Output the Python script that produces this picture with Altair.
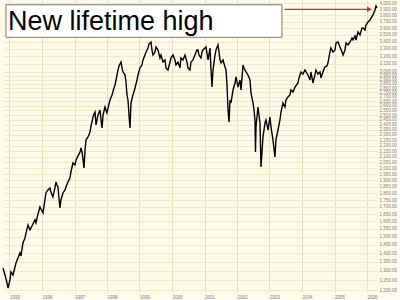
import altair as alt
import pandas as pd

# decimal-year dates and index levels
years = [1994.800, 1994.862, 1994.923, 1994.954, 1995.015, 1995.046, 1995.108, 1995.200, 1995.262, 1995.323,
         1995.354, 1995.415, 1995.477, 1995.508, 1995.569, 1995.631, 1995.662, 1995.723, 1995.785, 1995.815,
         1995.877, 1995.938, 1996.000, 1996.031, 1996.092, 1996.123, 1996.185, 1996.246, 1996.277, 1996.338,
         1996.400, 1996.431, 1996.462, 1996.492, 1996.523, 1996.554, 1996.585, 1996.646, 1996.708, 1996.738,
         1996.800, 1996.862, 1996.892, 1996.954, 1997.015, 1997.046, 1997.108, 1997.169, 1997.200, 1997.231,
         1997.262, 1997.292, 1997.323, 1997.354, 1997.415, 1997.477, 1997.508, 1997.569, 1997.600, 1997.631,
         1997.662, 1997.723, 1997.785, 1997.815, 1997.846, 1997.877, 1997.938, 1997.969, 1998.000, 1998.062,
         1998.092, 1998.154, 1998.215, 1998.246, 1998.277, 1998.338, 1998.369, 1998.431, 1998.462, 1998.492,
         1998.554, 1998.585, 1998.615, 1998.646, 1998.677, 1998.708, 1998.738, 1998.800, 1998.862, 1998.923,
         1998.954, 1999.015, 1999.077, 1999.108, 1999.169, 1999.231, 1999.262, 1999.292, 1999.354, 1999.385,
         1999.415, 1999.477, 1999.508, 1999.569, 1999.631, 1999.662, 1999.723, 1999.785, 1999.815, 1999.877,
         1999.938, 1999.969, 2000.031, 2000.092, 2000.123, 2000.185, 2000.246, 2000.277, 2000.338, 2000.400,
         2000.462, 2000.492, 2000.554, 2000.585, 2000.646, 2000.708, 2000.769, 2000.800, 2000.831, 2000.892,
         2000.923, 2000.954, 2001.046, 2001.108, 2001.169, 2001.200, 2001.231, 2001.262, 2001.323, 2001.354,
         2001.415, 2001.446, 2001.477, 2001.508, 2001.569, 2001.631, 2001.662, 2001.692, 2001.723, 2001.754,
         2001.785, 2001.815, 2001.877, 2001.938, 2001.969, 2002.031, 2002.092, 2002.123, 2002.185, 2002.215,
         2002.277, 2002.338, 2002.400, 2002.431, 2002.492, 2002.523, 2002.554, 2002.569, 2002.585, 2002.646,
         2002.708, 2002.738, 2002.800, 2002.862, 2002.892, 2002.954, 2003.015, 2003.046, 2003.108, 2003.169,
         2003.200, 2003.262, 2003.323, 2003.354, 2003.415, 2003.477, 2003.508, 2003.569, 2003.631, 2003.662,
         2003.723, 2003.785, 2003.877, 2003.908, 2003.969, 2004.031, 2004.092, 2004.185, 2004.246, 2004.277,
         2004.338, 2004.400, 2004.431, 2004.492, 2004.554, 2004.585, 2004.646, 2004.708, 2004.769, 2004.800,
         2004.862, 2004.892, 2004.954, 2005.015, 2005.046, 2005.108, 2005.169, 2005.231, 2005.262, 2005.323,
         2005.354, 2005.415, 2005.477, 2005.538, 2005.569, 2005.631, 2005.662, 2005.723, 2005.785, 2005.846,
         2005.877, 2005.938, 2005.969, 2006.031, 2006.092, 2006.123, 2006.185, 2006.246, 2006.277, 2006.308]
values = [1316, 1278, 1236, 1210, 1252, 1294, 1278, 1344, 1373, 1402,
          1384, 1462, 1493, 1524, 1576, 1544, 1557, 1583, 1610, 1590,
          1651, 1700, 1672, 1658, 1751, 1803, 1826, 1841, 1810, 1773,
          1841, 1888, 1864, 1849, 1765, 1693, 1751, 1803, 1826, 1849,
          1888, 1920, 1969, 2045, 2028, 2071, 2106, 2141, 2177, 2141,
          2071, 2002, 2159, 2252, 2280, 2329, 2388, 2480, 2511, 2532,
          2398, 2501, 2554, 2449, 2368, 2501, 2586, 2554, 2522, 2619,
          2663, 2720, 2801, 2836, 2896, 3020, 3071, 3123, 3046, 2995,
          2958, 2872, 2720, 2663, 2501, 2368, 2630, 2720, 2801, 2896,
          2958, 3046, 3084, 3150, 3216, 3285, 3312, 3368, 3397, 3285,
          3216, 3257, 3326, 3285, 3176, 3216, 3123, 3150, 3046, 3020,
          3123, 3176, 3216, 3150, 3084, 3123, 3046, 3176, 3150, 3216,
          3123, 3046, 3020, 3123, 3150, 3216, 3285, 3285, 3216, 3176,
          3257, 3285, 3326, 3150, 3312, 3020, 2812, 3020, 3216, 3285,
          3354, 3257, 3150, 3110, 3150, 3059, 3020, 2836, 2554, 2428,
          2663, 2630, 2777, 2860, 2933, 2812, 2896, 2777, 3084, 3046,
          2995, 2958, 2896, 2742, 2630, 2554, 2449, 2141, 2378, 2586,
          2418, 2011, 2280, 2418, 2449, 2348, 2480, 2378, 2252, 2097,
          2252, 2348, 2449, 2532, 2630, 2586, 2663, 2697, 2720, 2777,
          2754, 2812, 2860, 2921, 2995, 2970, 3020, 2958, 2896, 2995,
          2860, 2958, 3020, 2970, 2995, 2921, 2995, 3059, 3071, 3110,
          3257, 3312, 3257, 3285, 3382, 3397, 3326, 3257, 3216, 3285,
          3382, 3354, 3397, 3454, 3425, 3483, 3425, 3542, 3498, 3602,
          3602, 3572, 3648, 3694, 3725, 3756, 3804, 3884, 3950, 3917]

y_ticks = list(range(4000, 2999, -100)) + list(range(2950, 1199, -50))
x_tick_years = list(range(1995, 2007))
x_domain_years = [1994.800, 2006.308]
y_domain = [1190, 4051]

title_text = "New lifetime high"
box_years = [1994.892, 2003.385]
box_values = [3971, 3464]
text_year = 1994.954
text_value = 3572
arrow_years = [2003.468, 2006.123]
arrow_value = 3896


def to_date(y):
    yr = int(y)
    return pd.Timestamp(yr, 1, 1) + pd.Timedelta(days=(y - yr) * 365.25)


df = pd.DataFrame({"date": [to_date(y) for y in years], "value": values})

xscale = alt.Scale(domain=[to_date(v).isoformat() for v in x_domain_years])
yscale = alt.Scale(type="log", domain=y_domain, nice=False, zero=False)

x_axis = alt.Axis(values=[alt.DateTime(year=y, month=1, date=1) for y in x_tick_years],
                  format="%Y", title=None, labelFontSize=4.5, labelColor="#808080",
                  labelAlign="left", labelPadding=2, ticks=False, domain=False,
                  gridColor="#E6E0C2", gridWidth=1, labelOverlap=False, labelFont="Liberation Sans")
y_axis = alt.Axis(values=y_ticks, format=",.2f", orient="right", title=None, labelFontSize=4.5,
                  labelColor="#808080", labelPadding=2, ticks=False, domain=False,
                  gridColor="#EEE9CF", gridWidth=1, labelOverlap=False, labelFont="Liberation Sans")


def X(field="date"):
    return alt.X(f"{field}:T", scale=xscale, axis=x_axis)


def Y(field="value"):
    return alt.Y(f"{field}:Q", scale=yscale, axis=y_axis)


line = alt.Chart(df).mark_line(color="black", strokeWidth=1.4).encode(x=X(), y=Y())

box_df = pd.DataFrame({"date": [to_date(box_years[0])], "date2": [to_date(box_years[1])],
                       "value": [box_values[0]], "value2": [box_values[1]]})
box = alt.Chart(box_df).mark_rect(fill="white", stroke="#7a7a7a", strokeWidth=1).encode(
    x=X(), x2="date2:T", y=Y(), y2="value2:Q",
)

text_df = pd.DataFrame({"date": [to_date(text_year)], "value": [text_value], "label": [title_text]})
text = alt.Chart(text_df).mark_text(align="left", baseline="alphabetic", fontSize=27,
                                    font="Liberation Sans", color="black").encode(
    x=X(), y=Y(), text="label:N",
)

arrow_df = pd.DataFrame({"date": [to_date(arrow_years[0])], "date2": [to_date(arrow_years[1] - 0.03)],
                         "value": [arrow_value]})
arrow_line = alt.Chart(arrow_df).mark_rule(color="#d42a2a", strokeWidth=1.2).encode(
    x=X(), x2="date2:T", y=Y(),
)
head_df = pd.DataFrame({"date": [to_date(arrow_years[1] - 0.05)], "value": [arrow_value]})
arrow_head = alt.Chart(head_df).mark_point(shape="triangle-right", filled=True, size=30,
                                           color="#d42a2a", opacity=1).encode(x=X(), y=Y())

chart = alt.layer(line, box, text, arrow_line, arrow_head).properties(
    width=374, height=292, padding=0, background="#FEFCE8"
).configure_view(stroke=None, fill="#FEFCE8")

chart.save("out.html", embed_options={"renderer": "svg", "actions": False})
